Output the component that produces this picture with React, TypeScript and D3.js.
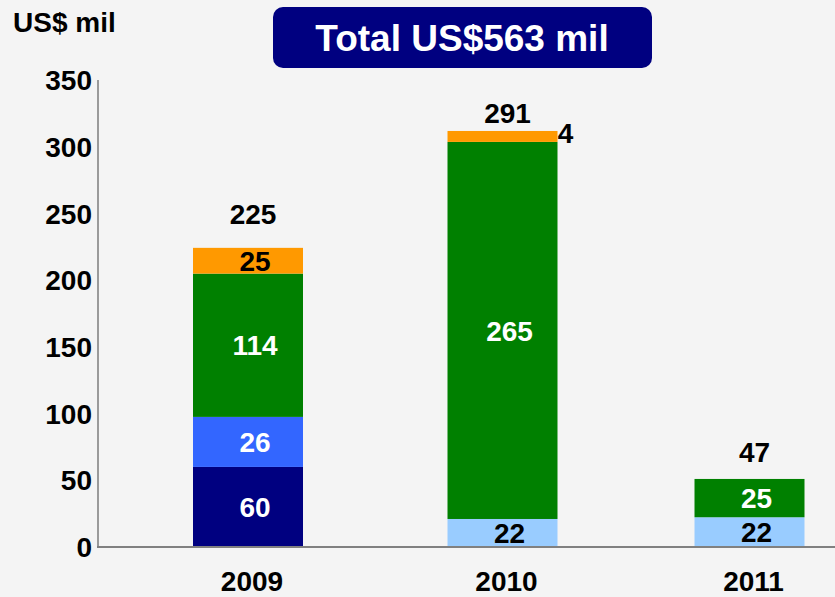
import React from 'react';
import * as d3 from 'd3';

const years = ['2009', '2010', '2011'];
const navySeries = [60, 0, 0];
const blueSeries = [37.5, 0, 0];
const lightBlueSeries = [0, 21, 22.3];
const greenSeries = [107.4, 282.6, 28.7];
const orangeSeries = [19.3, 8.2, 0];

const navyLabels = ['60', '', ''];
const blueLabels = ['26', '', ''];
const lightBlueLabels = ['', '22', '22'];
const greenLabels = ['114', '265', '25'];
const orangeLabels = ['25', '4', ''];
const totalLabels = ['225', '291', '47'];

const yTicks = [0, 50, 100, 150, 200, 250, 300, 350];
const titleText = 'Total US$563 mil';
const unitText = 'US$ mil';

const W = 835;
const H = 597;
const FONT = '"Liberation Sans", Arial, Helvetica, sans-serif';

const keys = ['navy', 'blue', 'lightBlue', 'green', 'orange'];
const colors: Record<string, string> = {
  navy: '#000080',
  blue: '#3366ff',
  lightBlue: '#99ccff',
  green: '#008000',
  orange: '#ff9900',
};
const labelColors: Record<string, string> = {
  navy: '#ffffff',
  blue: '#ffffff',
  lightBlue: '#000000',
  green: '#ffffff',
  orange: '#000000',
};
const seriesMap: Record<string, number[]> = {
  navy: navySeries,
  blue: blueSeries,
  lightBlue: lightBlueSeries,
  green: greenSeries,
  orange: orangeSeries,
};
const labelMap: Record<string, string[]> = {
  navy: navyLabels,
  blue: blueLabels,
  lightBlue: lightBlueLabels,
  green: greenLabels,
  orange: orangeLabels,
};

const rows = years.map((y, i) => {
  const r: any = { year: y };
  keys.forEach((k) => (r[k] = seriesMap[k][i]));
  return r;
});

export default function App() {
  const x = d3.scaleOrdinal<string, number>().domain(years).range([248, 502.5, 749.5]);
  const y = d3.scaleLinear().domain([0, 350]).range([547, 80]);
  const barW = 110;
  const stacked = d3.stack<any>().keys(keys)(rows);
  const totalNudge = [-34, -18, -27];
  const fs = 28;

  return (
    <svg
      width={W}
      height={H}
      style={{ position: 'absolute', left: 0, top: 0, background: '#f4f4f4' }}
      fontFamily={FONT}
      fontWeight="bold"
    >
      <rect x={0} y={0} width={W} height={H} fill="#f4f4f4" />
      <text x={13} y={32} fontSize={28} fill="#000">{unitText}</text>
      <rect x={273} y={7} width={379} height={61} rx={10} ry={10} fill="#000080" />
      <text x={462} y={51} fontSize={37} fill="#fff" textAnchor="middle">{titleText}</text>

      {yTicks.map((t) => (
        <text key={t} x={92} y={y(t)} dy="0.36em" fontSize={fs} textAnchor="end" fill="#000">
          {t}
        </text>
      ))}

      {stacked.map((layer) =>
        layer.map((d, i) => {
          const h = y(d[0]) - y(d[1]);
          if (h <= 0) return null;
          return (
            <rect
              key={layer.key + i}
              x={x(years[i]) - barW / 2}
              y={y(d[1])}
              width={barW}
              height={h}
              fill={colors[layer.key]}
            />
          );
        })
      )}

      <line x1={98} x2={98} y1={80} y2={547} stroke="#404040" strokeWidth={1} />
      <line x1={97} x2={W} y1={547} y2={547} stroke="#808080" strokeWidth={2} />

      {stacked.map((layer) =>
        layer.map((d, i) => {
          const lab = labelMap[layer.key][i];
          if (!lab) return null;
          const h = y(d[0]) - y(d[1]);
          const cx = x(years[i]);
          const small = h < 16;
          const lx = small ? cx + barW / 2 + 8 : cx + 7;
          const ly = small ? y(d[1]) + 2 : (y(d[0]) + y(d[1])) / 2;
          return (
            <text
              key={'l' + layer.key + i}
              x={lx}
              y={ly}
              dy="0.36em"
              fontSize={fs}
              textAnchor="middle"
              fill={small ? '#000' : labelColors[layer.key]}
            >
              {lab}
            </text>
          );
        })
      )}

      {years.map((yr, i) => {
        const top = stacked[stacked.length - 1][i][1];
        return (
          <text
            key={'t' + yr}
            x={x(yr) + 5}
            y={y(top) + totalNudge[i]}
            dy="0.36em"
            fontSize={fs}
            textAnchor="middle"
            fill="#000"
          >
            {totalLabels[i]}
          </text>
        );
      })}

      {years.map((yr) => (
        <text
          key={'x' + yr}
          x={x(yr) + 4}
          y={581}
          dy="0.36em"
          fontSize={fs}
          textAnchor="middle"
          fill="#000"
        >
          {yr}
        </text>
      ))}
    </svg>
  );
}
